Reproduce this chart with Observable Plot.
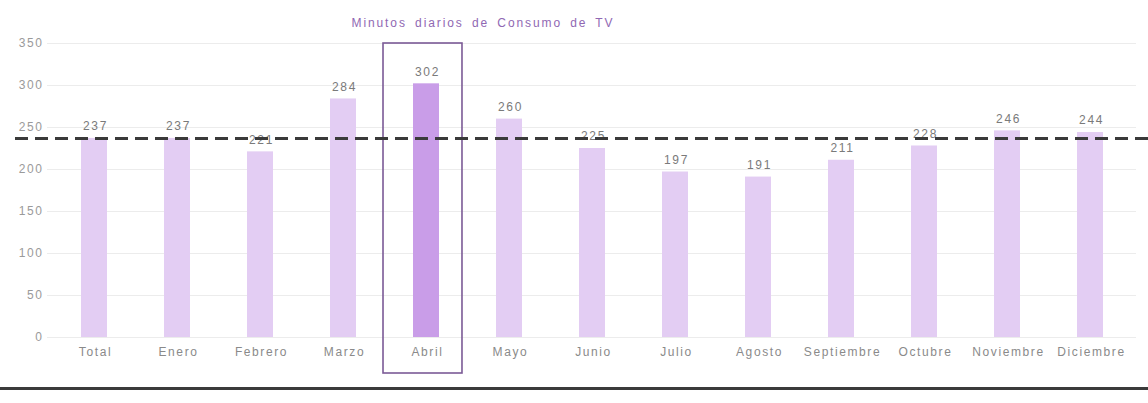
<!DOCTYPE html>
<html>
<head>
<meta charset="utf-8">
<script src="https://cdn.jsdelivr.net/npm/d3@7"></script>
<script src="https://cdn.jsdelivr.net/npm/@observablehq/plot@0.6"></script>
<style>
  html, body { margin: 0; padding: 0; background: #fff; }
  #wrap { position: relative; width: 1148px; height: 403px; overflow: hidden; }
  #rule { position: absolute; left: 0; top: 387px; width: 1148px; height: 3px; background: #3b3b3b; }
  #wrap svg text { letter-spacing: 1.6px; }
  #wrap svg .titulo text { letter-spacing: 1.9px; word-spacing: 3px; }
</style>
</head>
<body>
<div id="wrap"><div id="rule"></div></div>
<script>
const meses = ["Total","Enero","Febrero","Marzo","Abril","Mayo","Junio","Julio","Agosto","Septiembre","Octubre","Noviembre","Diciembre"];
const minutos = [237,237,221,284,302,260,225,197,191,211,228,246,244];
const destacado = ["Abril"];
const media = [237];
const yTicks = [0,50,100,150,200,250,300,350];
const titulo = "Minutos diarios de Consumo de TV";

const data = meses.map((m, i) => ({mes: m, valor: minutos[i], hl: destacado.includes(m)}));
const yMax = yTicks[yTicks.length - 1];

const font = "'Liberation Sans', Arial, sans-serif";

const chart = Plot.plot({
  width: 1148,
  height: 403,
  marginTop: 43,
  marginBottom: 66,
  marginLeft: 47,
  marginRight: 12,
  style: {fontFamily: font, fontSize: "12px", background: "transparent", overflow: "visible"},
  x: {domain: meses, range: [81, 1103], paddingInner: 0.687, paddingOuter: 0, round: false, label: null},
  y: {domain: [0, yMax], label: null},
  marks: [
    Plot.ruleY(yTicks, {stroke: "#ececec", strokeWidth: 1}),
    Plot.axisY(yTicks, {tickSize: 0, tickPadding: 4, fill: "#9a9a9a", stroke: null, fontSize: 12}),
    Plot.axisX({tickSize: 0, tickPadding: 10, fill: "#8a8a8a", fontSize: 12, dx: 1}),
    Plot.barY(data, {x: "mes", y: "valor", fill: d => d.hl ? "#c99de8" : "#e3cdf3"}),
    Plot.barY(data.filter(d => d.hl), {x: "mes", y1: 0, y2: yMax, fill: "none", stroke: "#7b5a96", strokeWidth: 1.6, insetLeft: -30, insetRight: -23, insetTop: 0, insetBottom: -36, clip: false}),
    Plot.text(data, {x: "mes", y: "valor", text: d => String(d.valor), dy: -12, dx: 1, fill: "#7a7a7a", fontSize: 12}),
    Plot.ruleY(media, {stroke: "#3a3a3a", strokeWidth: 3, strokeDasharray: "13,7", insetLeft: -32, insetRight: -12, clip: false}),
    Plot.text([titulo], {frameAnchor: "top", dy: -25, dx: -109, text: d => d, fill: "#9068b3", fontSize: 12, className: "titulo"})
  ]
});
document.getElementById("wrap").prepend(chart);
</script>
</body>
</html>
